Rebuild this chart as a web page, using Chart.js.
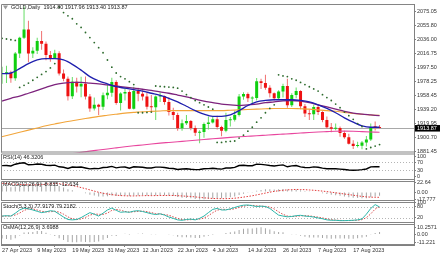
<!DOCTYPE html>
<html>
<head>
<meta charset="utf-8">
<script src="https://cdn.jsdelivr.net/npm/chart.js@4.4.0/dist/chart.umd.min.js"></script>
<style>
  html, body { margin: 0; padding: 0; background: #fff; }
  #wrap { position: relative; width: 440px; height: 254px; overflow: hidden; }
  #wrap canvas { position: absolute; left: 0; top: 0; width: 440px; height: 254px; }
</style>
</head>
<body>
<div id="wrap">
  <canvas id="main" width="440" height="254"></canvas>
  <canvas id="rsi" width="440" height="254"></canvas>
  <canvas id="macd" width="440" height="254"></canvas>
  <canvas id="stoch" width="440" height="254"></canvas>
  <canvas id="osma" width="440" height="254"></canvas>
</div>
<script>
// GOLD daily, 27 Apr 2023 .. 25 Aug 2023 (one entry per bar)
const open = [1988.5,1989.7,1990.0,1982.9,2016.9,2038.9,2050.0,2016.8,2020.9,2034.3,
  2030.3,2015.0,2010.8,2017.4,1989.3,1982.0,1957.9,1977.9,1971.3,1975.3,
  1957.6,1940.9,1946.2,1943.4,1959.3,1962.7,1977.5,1948.4,1961.5,1963.7,
  1940.5,1965.2,1961.3,1957.6,1943.5,1942.6,1957.6,1957.9,1950.0,1936.0,
  1932.0,1913.5,1920.5,1923.5,1914.0,1907.5,1908.5,1919.4,1921.5,1926.0,
  1915.5,1910.0,1924.6,1925.4,1932.0,1957.5,1961.0,1954.7,1955.5,1978.5,
  1976.0,1969.5,1962.0,1955.0,1964.5,1972.0,1945.5,1959.5,1965.0,1944.0,
  1934.0,1933.0,1943.0,1936.0,1925.0,1915.0,1913.0,1914.0,1907.0,1901.0,
  1892.0,1889.0,1889.5,1894.0,1898.0,1916.5,1914.80];
const high = [1998.5,2000.0,1993.0,2019.0,2040.0,2081.8,2062.4,2025.5,2038.7,2048.0,
  2033.5,2020.5,2022.0,2019.9,1995.0,1985.0,1984.3,1983.5,1984.8,1985.0,
  1961.0,1956.2,1947.5,1963.0,1974.3,1983.4,1980.0,1963.5,1969.5,1966.0,
  1971.0,1969.5,1966.3,1963.0,1959.7,1959.0,1963.0,1959.0,1956.5,1942.0,
  1935.0,1925.6,1932.0,1925.0,1917.5,1911.0,1921.5,1929.8,1929.0,1931.0,
  1917.0,1935.0,1929.0,1938.0,1961.0,1963.5,1963.0,1958.0,1983.0,1982.0,
  1987.5,1973.0,1963.0,1966.0,1975.0,1982.0,1962.0,1970.0,1966.0,1947.0,
  1940.0,1946.0,1946.0,1937.0,1930.0,1921.0,1920.0,1916.0,1910.0,1906.0,
  1897.0,1895.0,1896.0,1903.0,1920.0,1923.0,1917.96];
const low = [1975.3,1976.0,1976.5,1979.4,2010.6,2037.0,2004.8,2010.8,2016.1,2022.0,
  2007.7,2005.6,2009.7,1986.5,1978.5,1951.8,1954.0,1963.0,1956.3,1953.3,
  1936.4,1938.0,1932.0,1939.0,1953.6,1957.1,1946.0,1938.2,1952.0,1940.0,
  1939.6,1951.0,1952.0,1939.6,1936.0,1925.0,1950.0,1946.0,1931.4,1925.0,
  1910.0,1910.0,1918.0,1911.0,1903.0,1893.0,1900.3,1912.0,1920.0,1912.0,
  1902.5,1908.0,1916.0,1923.0,1930.0,1953.0,1950.0,1948.0,1952.0,1968.0,
  1967.0,1956.0,1952.0,1953.5,1956.0,1942.0,1943.0,1955.0,1940.0,1929.0,
  1925.0,1925.0,1932.0,1922.0,1913.0,1908.0,1911.0,1902.0,1899.0,1891.0,
  1885.0,1887.0,1884.5,1888.5,1896.0,1910.5,1913.40];
const close = [1989.7,1990.0,1982.9,2016.9,2038.9,2050.0,2016.8,2020.9,2034.3,2030.3,
  2015.0,2010.8,2017.4,1989.3,1982.0,1957.9,1977.9,1971.3,1975.3,1957.6,
  1940.9,1946.2,1943.4,1959.3,1962.7,1977.5,1948.4,1961.5,1963.7,1940.5,
  1965.2,1961.3,1957.6,1943.5,1942.6,1957.6,1957.9,1950.0,1936.0,1932.0,
  1913.5,1920.5,1923.5,1914.0,1907.5,1908.5,1919.4,1921.5,1926.0,1915.5,
  1910.0,1925.0,1925.4,1932.0,1957.5,1961.0,1955.0,1955.5,1978.5,1976.0,
  1969.5,1962.0,1955.0,1964.5,1972.0,1945.5,1959.5,1965.0,1944.0,1934.0,
  1933.0,1943.0,1936.0,1925.0,1915.0,1913.0,1914.0,1907.0,1901.0,1892.0,
  1889.0,1889.5,1894.0,1898.0,1915.5,1914.8,1913.87];

// Parabolic SAR
const sar = [2038,2037,2036,2035,1970,1973,1976,1980,1984,1988,
  1992,1997,2003,2081,2073.5,2069,2065,2058,2053,2046,
  2039,2032,2025,2018,2008,1998,1990,1985,1982,1978,
  1974,1935,1935,1935.5,1936,1972,1971.5,1971,1970.5,1970,
  1969,1965,1960,1956,1952,1949,1946,1943,1940,1894,
  1894,1895,1895.5,1896,1900,1904,1909.5,1915,1922,1928,
  1935,1941,1946,1987.5,1986,1985,1982,1980,1977,1974,
  1971,1968,1965,1960,1956,1952,1947,1942,1936,1931,
  1926,1920,1916,1885,1887,1889,1891];

// moving averages, read every second bar
const maIdx = [0,2,4,6,8,10,12,14,16,18,20,22,24,26,28,30,32,34,36,38,40,42,
  44,46,48,50,52,54,56,58,60,62,64,66,68,70,72,74,76,78,80,82,84,86];
const blueMA = [1989,1990,1996,2003,2008,2010,2010,2008,2002,1994,1985,1979,1975,1971,1969,1967,1965,1962,1959,1955,1950,1944,
  1938,1933,1930,1930,1932,1938,1945,1950,1952,1953,1953,1953,1952,1950,1946,1941,1935,1928,1922,1917,1915,1915];
const purpleMA = [1951,1955,1958,1962,1966,1970,1974,1976,1977,1977,1976,1975,1973.5,1972,1970.5,1969,1967.5,1966,1964,1962,1959.5,1957,
  1954,1951,1949,1947,1946,1945,1946,1947,1949,1950,1951.5,1952,1951,1949,1946,1943,1940,1937,1934.5,1933,1932,1931];
const orangeMA = [1902,1905,1908,1911,1914,1917,1919.5,1922,1924,1926,1928,1930,1931.5,1933,1934.5,1935.5,1936.5,1937,1937.5,1938,1938,1938,
  1938,1938,1938,1938,1938.5,1939,1939.5,1940,1940.5,1941,1941,1941,1940.5,1940,1939,1938,1937,1935.5,1934,1933,1932,1931.5];
const pinkMA = [1866,1867.5,1869,1870.5,1872,1873.5,1875,1876.8,1878.5,1880.3,1882,1883.5,1885,1886.5,1888,1889.3,1890.5,1891.8,1893,1894,1895,1896,
  1897,1898,1899,1900,1901,1901.8,1902.5,1903.2,1904,1904.8,1905.5,1906.2,1907,1907.8,1908.5,1909,1909.5,1909.6,1909.5,1909,1908.5,1908];

const rsi = [52,52.5,50,59,64,66,56,57,60,58.5,
  54,52.5,54.5,46,44,38,45,43.5,45,40,
  35.5,37.5,37,42.5,43.5,48,40.5,44.5,45,39,
  46,45,44,40,40,44.5,44.5,42.5,38.5,37.5,
  32.5,35,36,33.5,32,32.5,36,37,39,36,
  34.5,40,40,43,52.5,54,51.5,51.5,59,58,
  55.5,52.5,50,53,55.5,46,50.5,52.5,45.5,42.5,
  42,45.5,43.5,39.5,36.5,36,36.5,34.5,32.5,30,
  29,29.5,32,35,45.5,47,46.3206];

const macd = [15,13.5,11.5,13,16.5,20.5,20.5,20.5,22,22.64,
  21,19,18,14.5,11,6.5,4,1.5,0,-3,
  -6.5,-8.5,-10.5,-10.5,-10,-8,-9.5,-9,-8,-9.5,
  -8.5,-8,-7.5,-8.5,-9,-8.2,-7.5,-7.5,-8.5,-9.5,
  -12,-13.5,-14,-15,-16.5,-17.777,-17,-16.3,-15.2,-15,
  -15,-13.5,-12.3,-10.5,-7.2,-4,-2,-0.5,2.8,5,
  6.3,6.6,6.2,6.5,7.3,5.7,5.5,5.8,4.2,2.2,
  0.5,0,-1.2,-2.8,-4.9,-6.6,-7.7,-9,-10.5,-12.2,
  -13.6,-14.5,-14.8,-14.6,-12.5,-10.4,-8.835];
const macdSignal = [20.8,20,19.2,18.5,18,17.6,17.3,17,17,17.8,
  18.7,19.5,20.1,19.8,18.8,17.2,15.4,13.1,10.6,7.9,
  5.1,2.2,-0.6,-3,-4.8,-6.2,-7.4,-8.4,-8.9,-9.3,
  -9.3,-9,-8.7,-8.5,-8.6,-8.5,-8.3,-8.2,-8.1,-8.2,
  -8.7,-9.4,-10,-10.6,-11.6,-12.7,-13.8,-14.6,-15.3,-15.6,
  -15.8,-15.7,-15.4,-14.7,-13.6,-12.1,-10.5,-8.9,-6.9,-4.7,
  -2.5,-0.4,1.5,3,4.2,5.1,5.8,6.1,6,5.6,
  4.9,4.2,3.3,2.2,1,-0.3,-1.8,-3.3,-4.7,-6.1,
  -7.6,-9.1,-10.4,-11.5,-12.2,-12.5,-12.634];

const stochMain = [30,32,30,45,62,72,68,62,55,48,
  52,58,55,40,25,12,10,12,22,35,
  48,40,30,45,62,72,60,50,52,50,
  56,58,54,48,42,38,42,35,25,18,
  10,8,12,14,10,18,30,48,65,70,
  62,62,68,75,82,87,88,84,80,82,
  80,70,52,35,30,26,28,32,34,30,
  28,25,20,16,10,8,8,6,6,7,
  8,10,15,40,70,90,77.9179];
const stochSignal = [29,30,30.7,35.7,45.7,59.7,67.3,67.3,61.7,55,
  51.7,52.7,55,51,40,25.7,15.7,11.3,14.7,23,
  35,41,39.3,38.3,45.7,59.7,64.7,60.7,54,50.7,
  52.7,54.7,56,53.3,48,42.7,40.7,38.3,34,26,
  17.7,12,10,11.3,12,14,19.3,32,47.7,61,
  65.7,64.7,64,68.3,75,81.3,85.7,86.3,84,82,
  80.7,77.3,67.3,52.3,39,30.3,28,28.7,31.3,32,
  30.7,27.7,24.3,20.3,15.3,11.3,8.7,7.3,6.7,6.3,
  7,8.3,11,21.7,41.7,66.7,79.2182];

const osma = [-5.8,-6.5,-7.7,-5.5,-1.5,2.9,3.2,3.5,5,4.8,
  2.3,-0.5,-2.1,-5.3,-7.8,-10.7,-11.1,-11.221,-10.6,-10.9,
  -11.1,-10.7,-9.9,-7.5,-5.2,-1.8,-2.1,-0.6,0.9,-0.2,
  0.8,1,1.2,0,-0.4,0.3,0.8,0.7,-0.4,-1.3,
  -3.3,-4.1,-4,-4.4,-4.9,-5.1,-3.2,-1.7,0.1,0.6,
  0.8,2.2,3.1,4.2,6.4,8.1,8.5,8.4,9.7,10.2571,
  8.8,7,4.7,3.5,3.1,0.6,-0.3,-0.3,-1.8,-3.4,
  -4.4,-4.2,-4.5,-5,-5.9,-6.3,-5.9,-5.7,-5.8,-6.1,
  -6,-5.4,-4.4,-3.1,-0.3,2.1,3.6988];

// axis labels
const mainTicks = [2075.05,2055.80,2036.00,2016.75,1997.50,1978.25,1958.45,1939.20,1919.95,1900.70,1881.45];
const rsiTicks = [100,70,30,0];
const macdTicks = [22.64,0,-17.777];
const macdTickLabels = ['22.64','0.00','-17.777'];
const stochTicks = [100,80,20];
const osmaTicks = [10.2571,0,-11.221];
const osmaTickLabels = ['10.2571','0.00','-11.221'];
const dateIdx = [0,8,16,24,32,40,48,56,64,72,80];
const dateLabels = ['27 Apr 2023','9 May 2023','19 May 2023','31 May 2023','12 Jun 2023','22 Jun 2023',
  '4 Jul 2023','14 Jul 2023','26 Jul 2023','7 Aug 2023','17 Aug 2023'];
const bid = 1913.87;

const FAMILY = "'Liberation Sans', Arial, sans-serif";
const FONT = '5.5px ' + FAMILY;
Chart.defaults.font.family = FAMILY;
Chart.defaults.font.size = 5.5;
Chart.defaults.color = '#222';
Chart.defaults.animation = false;
Chart.defaults.responsive = false;
Chart.defaults.devicePixelRatio = 1;
Chart.defaults.events = [];
Chart.defaults.plugins.legend.display = false;
Chart.defaults.plugins.tooltip.enabled = false;
Chart.defaults.layout.autoPadding = false;

const AXIS_W = 26;
const X_MIN = -0.25, X_MAX = 93.85;
const BULL = '#0fcf0f', BEAR = '#ee1111';

const seq = arr => arr.map((y, i) => ({ x: i, y }));
const sampled = (idx, arr) => idx.map((x, k) => ({ x, y: arr[k] }));

const xHidden = { type: 'linear', min: X_MIN, max: X_MAX, offset: false, display: false };

function rightAxis(min, max, ticks, labels) {
  return {
    position: 'right', min, max,
    afterBuildTicks: s => { s.ticks = ticks.map(v => ({ value: v })); },
    afterFit: s => { s.width = AXIS_W; s.paddingTop = 0; s.paddingBottom = 0; },
    ticks: { callback: (v, i) => labels[i], padding: 1, autoSkip: false, color: '#333', font: { size: 5.5 } },
    grid: { drawOnChartArea: false, tickLength: 2, color: '#808080' },
    border: { color: '#808080' }
  };
}

function pad(top, bottom) {
  return { padding: { left: 1, right: 0, top, bottom: 254 - bottom } };
}

function maLine(data, color, w) {
  return { type: 'line', data, borderColor: color, borderWidth: w, pointRadius: 0,
    fill: false, cubicInterpolationMode: 'monotone' };
}

// frame, caption, level lines and bid marker
const panelPlugin = {
  id: 'panel',
  beforeDatasetsDraw(chart, args, o) {
    const { ctx, chartArea: a } = chart;
    const y = chart.scales.y;
    ctx.save();
    ctx.lineWidth = 1;
    (o.levels || []).forEach(v => {
      const py = Math.round(y.getPixelForValue(v)) + 0.5;
      ctx.strokeStyle = '#b4b4b4';
      ctx.setLineDash([1, 2]);
      ctx.beginPath(); ctx.moveTo(a.left, py); ctx.lineTo(a.right, py); ctx.stroke();
    });
    if (o.bid != null) {
      const py = Math.round(y.getPixelForValue(o.bid)) + 0.5;
      ctx.setLineDash([]);
      ctx.strokeStyle = '#a8a8a8';
      ctx.beginPath(); ctx.moveTo(a.left, py); ctx.lineTo(a.right, py); ctx.stroke();
    }
    ctx.restore();
  },
  afterDraw(chart, args, o) {
    const { ctx, chartArea: a } = chart;
    const y = chart.scales.y;
    ctx.save();
    ctx.strokeStyle = '#858585';
    ctx.lineWidth = 1;
    ctx.beginPath();
    ctx.moveTo(a.left + 0.5, a.bottom); ctx.lineTo(a.left + 0.5, a.top + 0.5); ctx.lineTo(a.right, a.top + 0.5);
    ctx.moveTo(a.left, a.bottom - 0.5); ctx.lineTo(a.right, a.bottom - 0.5);
    ctx.stroke();

    ctx.font = FONT;
    ctx.textBaseline = 'middle';
    ctx.textAlign = 'left';
    if (o.icon) {
      ctx.fillStyle = '#9a9a9a';
      ctx.beginPath(); ctx.moveTo(3, a.top + 1.5); ctx.lineTo(8, a.top + 1.5); ctx.lineTo(5.5, a.top + 5.5); ctx.closePath(); ctx.fill();
    }
    ctx.fillStyle = '#1a1a1a';
    ctx.fillText(o.caption, o.cx, a.top + o.cy);

    if (o.bid != null) {
      const py = y.getPixelForValue(o.bid);
      ctx.fillStyle = '#000';
      ctx.fillRect(a.right + 1, py - 3, 25, 6.5);
      ctx.fillStyle = '#fff';
      ctx.fillText(o.bid.toFixed(2), a.right + 3, py + 0.3);
    }
    ctx.restore();
  }
};

// main price panel
const bodies = open.map((o, i) => ({ x: i, y: [o, close[i]] }));
const wicks = low.map((l, i) => ({ x: i, y: [l, high[i]] }));

new Chart(document.getElementById('main'), {
  type: 'bar',
  data: {
    datasets: [
      { type: 'line', data: seq(sar), showLine: false, pointRadius: 0.9, pointBorderWidth: 0,
        pointBackgroundColor: '#2c6a2c' },
      maLine(sampled(maIdx, blueMA), '#1f1fae', 1.3),
      maLine(sampled(maIdx, purpleMA), '#7d237d', 1.3),
      maLine(sampled(maIdx, orangeMA), '#f2a53a', 1.1),
      maLine(sampled(maIdx, pinkMA), '#e8469e', 1.1),
      { data: bodies, grouped: false, maxBarThickness: 3, minBarLength: 1, borderWidth: 0,
        backgroundColor: bodies.map((b, i) => close[i] >= open[i] ? BULL : BEAR) },
      { data: wicks, grouped: false, maxBarThickness: 1, borderWidth: 0,
        backgroundColor: wicks.map((b, i) => close[i] >= open[i] ? '#66dd66' : '#f07070') }
    ]
  },
  options: {
    layout: pad(4, 152.5),
    scales: {
      x: xHidden,
      y: rightAxis(1880.07, 2085.4, mainTicks, mainTicks.map(v => v.toFixed(2)))
    },
    plugins: { panel: { caption: 'GOLD,Daily  1914.80 1917.96 1913.40 1913.87', cx: 11, cy: 3.5, icon: true, bid } }
  },
  plugins: [panelPlugin]
});

// RSI
new Chart(document.getElementById('rsi'), {
  type: 'line',
  data: { datasets: [{ data: seq(rsi), borderColor: '#000', borderWidth: 1.4, pointRadius: 0, tension: 0 }] },
  options: {
    layout: pad(153.5, 180),
    scales: { x: xHidden, y: rightAxis(-20, 112.5, rsiTicks, rsiTicks.map(String)) },
    plugins: { panel: { caption: 'RSI(14) 46.3206', cx: 3, cy: 3.5, levels: [70, 30] } }
  },
  plugins: [panelPlugin]
});

// MACD
new Chart(document.getElementById('macd'), {
  type: 'bar',
  data: {
    datasets: [
      { type: 'line', data: seq(macdSignal), borderColor: '#e23a3a', borderWidth: 1, borderDash: [1.5, 1.5],
        pointRadius: 0, tension: 0 },
      { data: seq(macd), grouped: false, maxBarThickness: 1, borderWidth: 0, backgroundColor: '#a6a6a6' }
    ]
  },
  options: {
    layout: pad(181, 201),
    scales: { x: xHidden, y: rightAxis(-21.34, 26.2, macdTicks, macdTickLabels) },
    plugins: { panel: { caption: 'MACD(12,26,9) -8.835 -12.634', cx: 3, cy: 3.5 } }
  },
  plugins: [panelPlugin]
});

// Stochastic
new Chart(document.getElementById('stoch'), {
  type: 'line',
  data: {
    datasets: [
      { data: seq(stochMain), borderColor: '#2bb5a8', borderWidth: 1, pointRadius: 0, tension: 0 },
      { data: seq(stochSignal), borderColor: '#d84a4a', borderWidth: 1, borderDash: [1.5, 1.5], pointRadius: 0, tension: 0 }
    ]
  },
  options: {
    layout: pad(202, 223),
    scales: { x: xHidden, y: rightAxis(-6.3, 103.7, stochTicks, stochTicks.map(String)) },
    plugins: { panel: { caption: 'Stoch(5,3,3) 77.9179 79.2182', cx: 3, cy: 4, levels: [80, 20] } }
  },
  plugins: [panelPlugin]
});

// OsMA + date axis
new Chart(document.getElementById('osma'), {
  type: 'bar',
  data: { datasets: [{ data: seq(osma), grouped: false, maxBarThickness: 1, borderWidth: 0, backgroundColor: '#a6a6a6' }] },
  options: {
    layout: { padding: { left: 1, right: 0, top: 224, bottom: 0 } },
    scales: {
      x: {
        type: 'linear', min: X_MIN, max: X_MAX, offset: false,
        afterBuildTicks: s => { s.ticks = dateIdx.map(v => ({ value: v })); },
        afterFit: s => { s.height = 9; s.paddingLeft = 0; s.paddingRight = 0; },
        ticks: { callback: (v, i) => dateLabels[i], align: 'start', padding: 0, autoSkip: false,
          maxRotation: 0, minRotation: 0, color: '#333', font: { size: 5.5 } },
        grid: { drawOnChartArea: false, tickLength: 2, color: '#808080' },
        border: { color: '#808080' }
      },
      y: rightAxis(-15.09, 14.98, osmaTicks, osmaTickLabels)
    },
    plugins: { panel: { caption: 'OsMA(12,26,9) 3.6988', cx: 3, cy: 3.5 } }
  },
  plugins: [panelPlugin]
});
</script>
</body>
</html>
